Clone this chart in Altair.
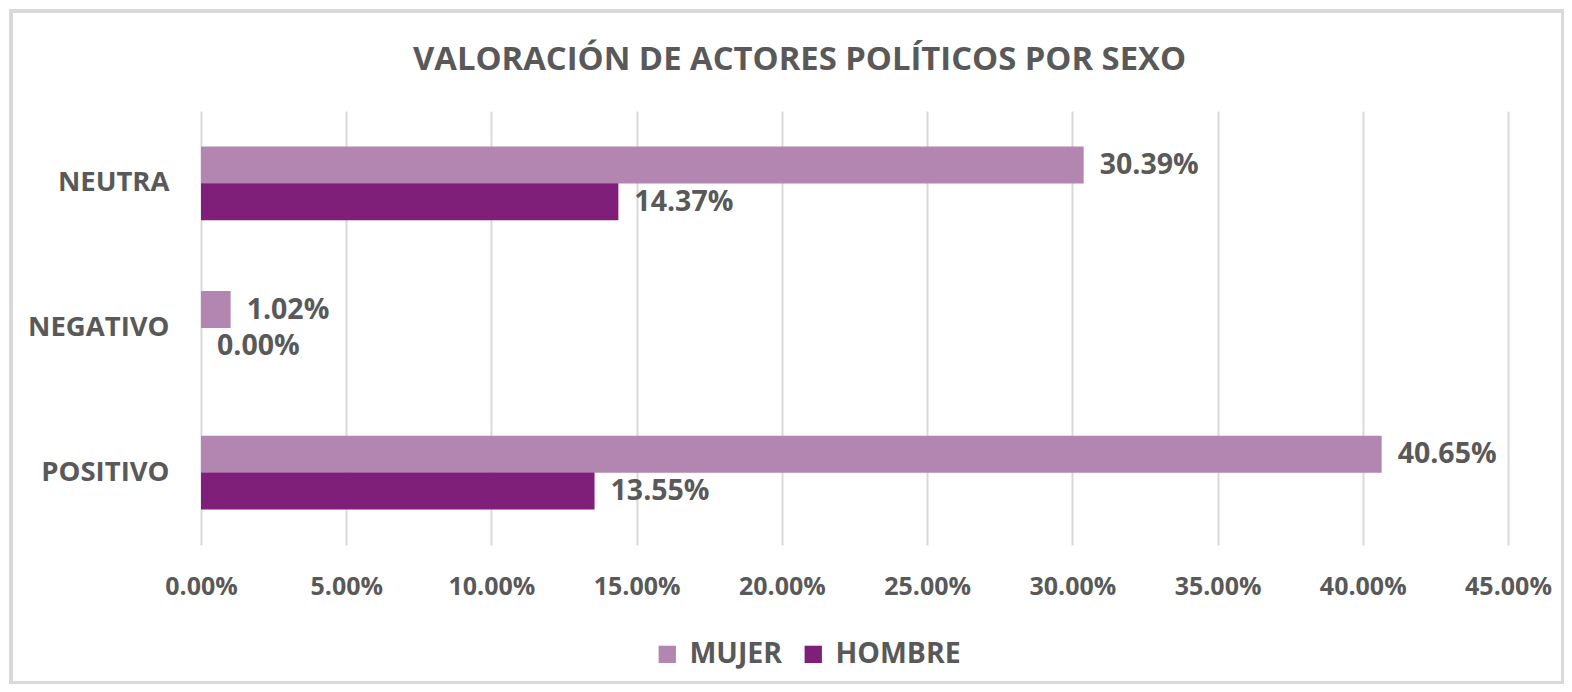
import altair as alt
import pandas as pd

categories = ["NEUTRA", "NEGATIVO", "POSITIVO"]
series = ["MUJER", "HOMBRE"]
mujer = [0.3039, 0.0102, 0.4065]
hombre = [0.1437, 0.0000, 0.1355]
colors = ["#B286B0", "#7F1F7A"]

rows = []
for i, c in enumerate(categories):
    rows.append({"cat": c, "sexo": "MUJER", "val": mujer[i]})
    rows.append({"cat": c, "sexo": "HOMBRE", "val": hombre[i]})
df = pd.DataFrame(rows)

FONT = "Open Sans"
GREY = "#595959"

y_enc = alt.Y("cat:N", sort=categories, title=None,
              scale=alt.Scale(paddingInner=0.49, paddingOuter=0.245),
              axis=alt.Axis(labelFont=FONT, labelFontSize=27.5, labelFontWeight="bold",
                            labelColor=GREY, ticks=False, domain=False, grid=False,
                            labelPadding=32))
x_enc = alt.X("val:Q", title=None,
              scale=alt.Scale(domain=[0, 0.45], nice=False),
              axis=alt.Axis(format=".2%", values=[i * 0.05 for i in range(10)],
                            labelFont=FONT, labelFontSize=25, labelFontWeight="bold",
                            labelColor=GREY, ticks=False, domain=False,
                            gridColor="#D9D9D9", gridWidth=2, labelPadding=29,
                            labelFlush=False))
yoff = alt.YOffset("sexo:N", sort=series, scale=alt.Scale(paddingInner=0, paddingOuter=0))

bars = alt.Chart(df).mark_bar(size=37).encode(
    y=y_enc, x=x_enc, yOffset=yoff,
    color=alt.Color("sexo:N", sort=series, title=None,
                    scale=alt.Scale(domain=series, range=colors),
                    legend=alt.Legend(orient="none", legendX=452, legendY=529,
                                      direction="horizontal", symbolType="square",
                                      symbolSize=300, symbolStrokeWidth=0,
                                      labelFont=FONT, labelFontSize=28.5,
                                      labelFontWeight="bold", labelColor=GREY,
                                      columnPadding=16, labelOffset=8)),
)

labels = alt.Chart(df).mark_text(align="left", baseline="middle", dx=16,
                                 font=FONT, fontSize=28.5, fontWeight="bold",
                                 color=GREY).encode(
    y=alt.Y("cat:N", sort=categories), x="val:Q", yOffset=alt.YOffset("sexo:N", sort=series),
    text=alt.Text("val:Q", format=".2%"),
)

border = alt.Chart(df).mark_rect(fill=None, stroke="#D9D9D9", strokeWidth=3).encode(
    x=alt.value(-190), x2=alt.value(1307 + 55), y=alt.value(-100), y2=alt.value(434 + 138),
)

chart = alt.layer(border, bars, labels).properties(
    width=1307, height=434,
    title=alt.TitleParams("VALORACIÓN DE ACTORES POLÍTICOS POR SEXO", font=FONT,
                          fontSize=32.8, fontWeight="bold", color=GREY, anchor="middle",
                          frame="group", dx=-55, offset=0, dy=67),
    autosize=alt.AutoSizeParams(type="none"),
    padding={"left": 193, "top": 103, "right": 56, "bottom": 139},
).configure_view(stroke=None).configure_axisY(labelLimit=300)

chart.save("out.html", embed_options={"renderer": "svg", "actions": False})
